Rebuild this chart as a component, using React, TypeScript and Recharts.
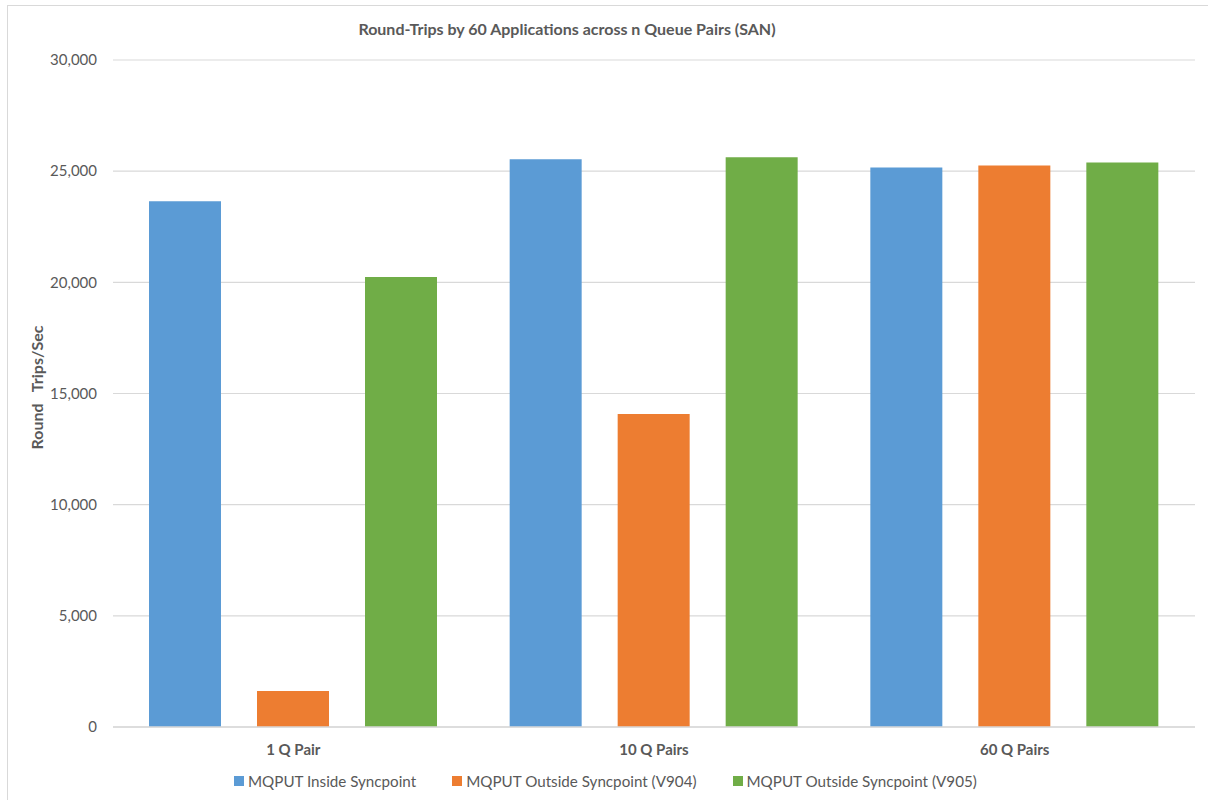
import React from 'react';
import { BarChart, Bar, XAxis, YAxis, CartesianGrid, Label } from 'recharts';

// Chart values
const categories = ['1 Q Pair', '10 Q Pairs', '60 Q Pairs'];
const insideSyncpoint = [23650, 25540, 25170];
const outsideV904 = [1620, 14080, 25260];
const outsideV905 = [20240, 25630, 25390];
const yTicks = [0, 5000, 10000, 15000, 20000, 25000, 30000];

const seriesDefs = [
  { key: 'inside', name: 'MQPUT Inside Syncpoint', color: '#5B9BD5' },
  { key: 'v904', name: 'MQPUT Outside Syncpoint (V904)', color: '#ED7D31' },
  { key: 'v905', name: 'MQPUT Outside Syncpoint (V905)', color: '#70AD47' },
];

const data = categories.map((c, i) => ({
  cat: c,
  inside: insideSyncpoint[i],
  v904: outsideV904[i],
  v905: outsideV905[i],
}));

const FONT = 'Lato, "Open Sans", sans-serif';
const TEXT = '#595959';
const GRID = '#D9D9D9';

const fmt = (v: number) => v.toLocaleString('en-US');

const YLabel = (props: any) => {
  const vb = props.viewBox || {};
  const x = (vb.x ?? 0) + 36;
  const y = (vb.y ?? 0) + (vb.height ?? 0) / 2 - 6;
  return (
    <text
      x={x}
      y={y}
      transform={`rotate(-90, ${x}, ${y})`}
      textAnchor="middle"
      dominantBaseline="central"
      xmlSpace="preserve"
      style={{ whiteSpace: 'pre', fontFamily: FONT, fontSize: 16, fontWeight: 700, fill: TEXT }}
    >
      {'Round   Trips/Sec'}
    </text>
  );
};

export default function App() {
  return (
    <div style={{ position: 'absolute', left: 0, top: 0, width: 1208, height: 800, background: '#fff', overflow: 'hidden' }}>
      <div style={{ position: 'absolute', left: 7, top: 5, width: 1220, height: 820, border: `1px solid ${GRID}` }} />
      <div
        style={{
          position: 'absolute', top: 19, left: 0, width: 1134, textAlign: 'center',
          fontFamily: FONT, fontWeight: 700, fontSize: 16, color: TEXT,
        }}
      >
        Round-Trips by 60 Applications across n Queue Pairs (SAN)
      </div>
      <div style={{ position: 'absolute', left: 0, top: 0 }}>
        <BarChart
          width={1208}
          height={800}
          data={data}
          margin={{ top: 60, right: 13, left: 0, bottom: 33 }}
          barSize={72}
          barGap={36}
        >
          <CartesianGrid vertical={false} stroke={GRID} strokeWidth={1.2} />
          <XAxis
            dataKey="cat"
            height={40}
            axisLine={{ stroke: GRID, strokeWidth: 1.5 }}
            tickLine={false}
            tickMargin={11}
            tick={{ fontFamily: FONT, fontSize: 15, fontWeight: 700, fill: TEXT }}
          />
          <YAxis
            width={113}
            domain={[0, 30000]}
            ticks={yTicks}
            tickFormatter={fmt}
            axisLine={false}
            tickLine={false}
            tickMargin={10}
            tick={{ fontFamily: FONT, fontSize: 15, fill: TEXT }}
          >
            <Label content={<YLabel />} />
          </YAxis>
          {seriesDefs.map((s) => (
            <Bar key={s.key} dataKey={s.key} name={s.name} fill={s.color} isAnimationActive={false} />
          ))}
        </BarChart>
      </div>
      <div
        style={{
          position: 'absolute', top: 772, left: 234, display: 'flex', gap: 36,
          fontFamily: FONT, fontSize: 15.2, color: TEXT, whiteSpace: 'nowrap',
        }}
      >
        {seriesDefs.map((s) => (
          <div key={s.key} style={{ display: 'flex', alignItems: 'center' }}>
            <span style={{ width: 10, height: 10, background: s.color, display: 'inline-block', marginRight: 4 }} />
            <span>{s.name}</span>
          </div>
        ))}
      </div>
    </div>
  );
}
